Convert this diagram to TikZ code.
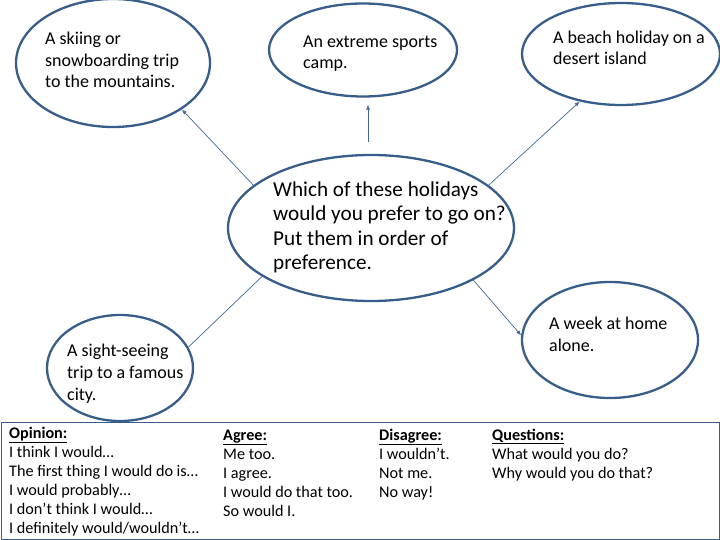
\documentclass[tikz,border=0pt]{standalone}
\usepackage{fontspec}
\setmainfont{Carlito}
\usetikzlibrary{shapes.geometric, arrows.meta}
\definecolor{rimblue}{HTML}{385D8A}
\definecolor{linkblue}{HTML}{4F81BD}
\begin{document}
\begin{tikzpicture}[x=1pt, y=-1pt,
  bubble/.style={ellipse, draw=rimblue, line width=2.3pt, inner sep=0pt},
  link/.style={draw=linkblue!80!black, line width=0.7pt},
  tip/.style={-{Latex[length=5pt, width=4pt]}},
  txt/.style={anchor=base west, align=left, inner sep=0pt, font=\fontsize{18}{21.7}\selectfont},
  cue/.style={anchor=base west, align=left, inner sep=0pt, font=\fontsize{16.2}{19}\selectfont}]
  \useasboundingbox (0,0) rectangle (720,540);
  % the bubbles
  \node[bubble, minimum width=194pt, minimum height=128pt] (ski)   at (113,63)  {};
  \node[bubble, minimum width=188pt, minimum height=93pt]  (sport) at (363,50)  {};
  \node[bubble, minimum width=198pt, minimum height=102pt] (beach) at (621,54)  {};
  \node[bubble, minimum width=286pt, minimum height=146pt] (mid)   at (371,228) {};
  \node[bubble, minimum width=176pt, minimum height=116pt] (home)  at (610,340) {};
  \node[bubble, minimum width=146pt, minimum height=106pt] (city)  at (120,368) {};
  % the texts in them (placed by the baseline of their last line)
  \node[txt] (skitext)   at (45,88)  {A skiing or\\snowboarding trip\\to the mountains.};
  \node[txt] (sporttext) at (303,69) {An extreme sports\\camp.};
  \node[txt] (beachtext) at (553,65) {A beach holiday on a\\desert island};
  \node[txt, font=\fontsize{21.2}{24.5}\selectfont] (midtext) at (273,269.5)
    {Which of these holidays\\would you prefer to go on?\\Put them in order of\\preference.};
  \node[txt] (hometext)  at (549,351) {A week at home\\alone.};
  \node[txt] (citytext)  at (67,400)  {A sight-seeing\\trip to a famous\\city.};
  % the links
  \draw[link, tip] (mid.160) -- (ski.-34);
  \draw[link, tip, shorten <=12pt, shorten >=7pt] ([xshift=-3pt]mid.north) -- ([xshift=5pt]sport.south);
  \draw[link, tip] (mid.20) -- (beach.-131);
  \draw[link] (mid.-156) -- (city.17);
  \draw[link, tip] (mid.-27) -- (home.177);
  % the box of phrases
  \node[draw=rimblue, line width=1.2pt, anchor=north west, inner sep=0pt,
        minimum width=718.6pt, minimum height=117pt] (panel) at (0.7,422) {};
  \node[cue] (opinion)  at (9,533)   {\underline{\textbf{Opinion:}}\\I think I would…\\The first thing I would do is…\\I would probably…\\I don’t think I would…\\I definitely would/wouldn’t…};
  \node[cue] (agree)    at (223,516) {\underline{\textbf{Agree:}}\\Me too.\\I agree.\\I would do that too.\\So would I.};
  \node[cue] (disagree) at (379,497) {\underline{\textbf{Disagree:}}\\I wouldn’t.\\Not me.\\No way!};
  \node[cue] (question) at (492,478) {\underline{\textbf{Questions:}}\\What would you do?\\Why would you do that?};
\end{tikzpicture}
\end{document}
